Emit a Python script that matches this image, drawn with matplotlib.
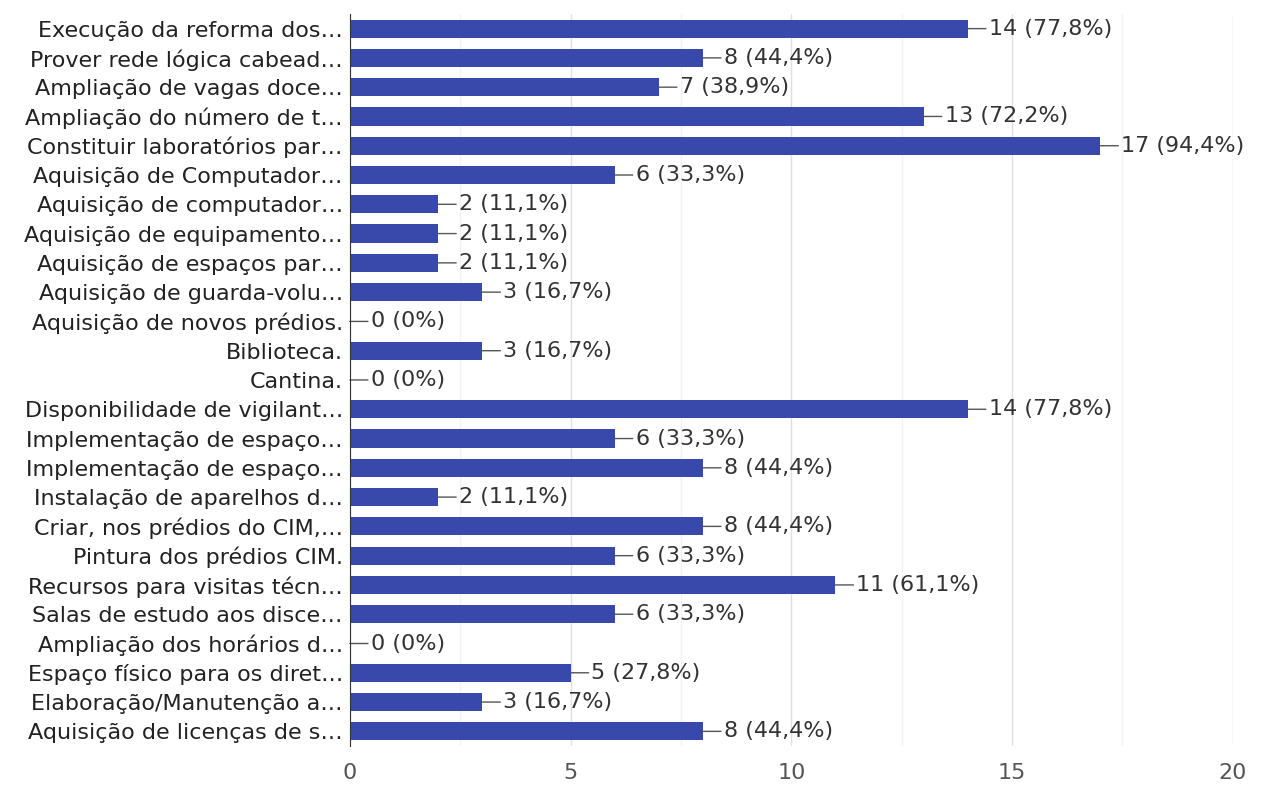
import matplotlib
matplotlib.use("Agg")
import matplotlib.pyplot as plt
import numpy as np

categories = [
    "Execução da reforma dos…",
    "Prover rede lógica cabead…",
    "Ampliação de vagas doce…",
    "Ampliação do número de t…",
    "Constituir laboratórios par…",
    "Aquisição de Computador…",
    "Aquisição de computador…",
    "Aquisição de equipamento…",
    "Aquisição de espaços par…",
    "Aquisição de guarda-volu…",
    "Aquisição de novos prédios.",
    "Biblioteca.",
    "Cantina.",
    "Disponibilidade de vigilant…",
    "Implementação de espaço…",
    "Implementação de espaço…",
    "Instalação de aparelhos d…",
    "Criar, nos prédios do CIM,…",
    "Pintura dos prédios CIM.",
    "Recursos para visitas técn…",
    "Salas de estudo aos disce…",
    "Ampliação dos horários d…",
    "Espaço físico para os diret…",
    "Elaboração/Manutenção a…",
    "Aquisição de licenças de s…",
]
counts = [14, 8, 7, 13, 17, 6, 2, 2, 2, 3, 0, 3, 0, 14, 6, 8, 2, 8, 6, 11, 6, 0, 5, 3, 8]
percents = ["77,8%", "44,4%", "38,9%", "72,2%", "94,4%", "33,3%", "11,1%", "11,1%",
            "11,1%", "16,7%", "0%", "16,7%", "0%", "77,8%", "33,3%", "44,4%", "11,1%",
            "44,4%", "33,3%", "61,1%", "33,3%", "0%", "27,8%", "16,7%", "44,4%"]
x_ticks = [0, 5, 10, 15, 20]

plt.rcParams['font.family'] = ['DejaVu Sans']

fig = plt.figure(figsize=(12.63, 7.85), dpi=100)
ax = fig.add_axes([0.277, 0.0497, 0.699, 0.9325])

y = np.arange(len(categories))
ax.barh(y, counts, height=0.62, color='#3949ab', zorder=3)

# value labels with a short leader line
for yi, c, p in zip(y, counts, percents):
    ax.annotate(f"{c} ({p})", xy=(c, yi), xytext=(15, 0), textcoords='offset points',
                va='center', ha='left', fontsize=16, color='#333333',
                arrowprops=dict(arrowstyle='-', color='#555555', lw=1,
                                shrinkA=0, shrinkB=0))

ax.set_ylim(len(categories) - 0.5, -0.5)
ax.set_xlim(0, 20)
ax.set_yticks(y)
ax.set_yticklabels(categories, fontsize=16, color='#222222')
ax.set_xticks(x_ticks)
ax.set_xticklabels([str(t) for t in x_ticks], fontsize=16, color='#555555')
ax.set_xticks(np.arange(2.5, 20, 5), minor=True)

ax.grid(axis='x', which='major', color='#e0e0e0', lw=1, zorder=0)
ax.grid(axis='x', which='minor', color='#f2f2f2', lw=1, zorder=0)
ax.tick_params(axis='x', length=0, pad=12)
ax.tick_params(axis='x', which='minor', length=0)
ax.tick_params(axis='y', length=0, pad=5)
for s in ['top', 'right', 'bottom']:
    ax.spines[s].set_visible(False)
ax.spines['left'].set_color('#333333')
ax.spines['left'].set_zorder(4)

fig.savefig("out.png", dpi=100)
